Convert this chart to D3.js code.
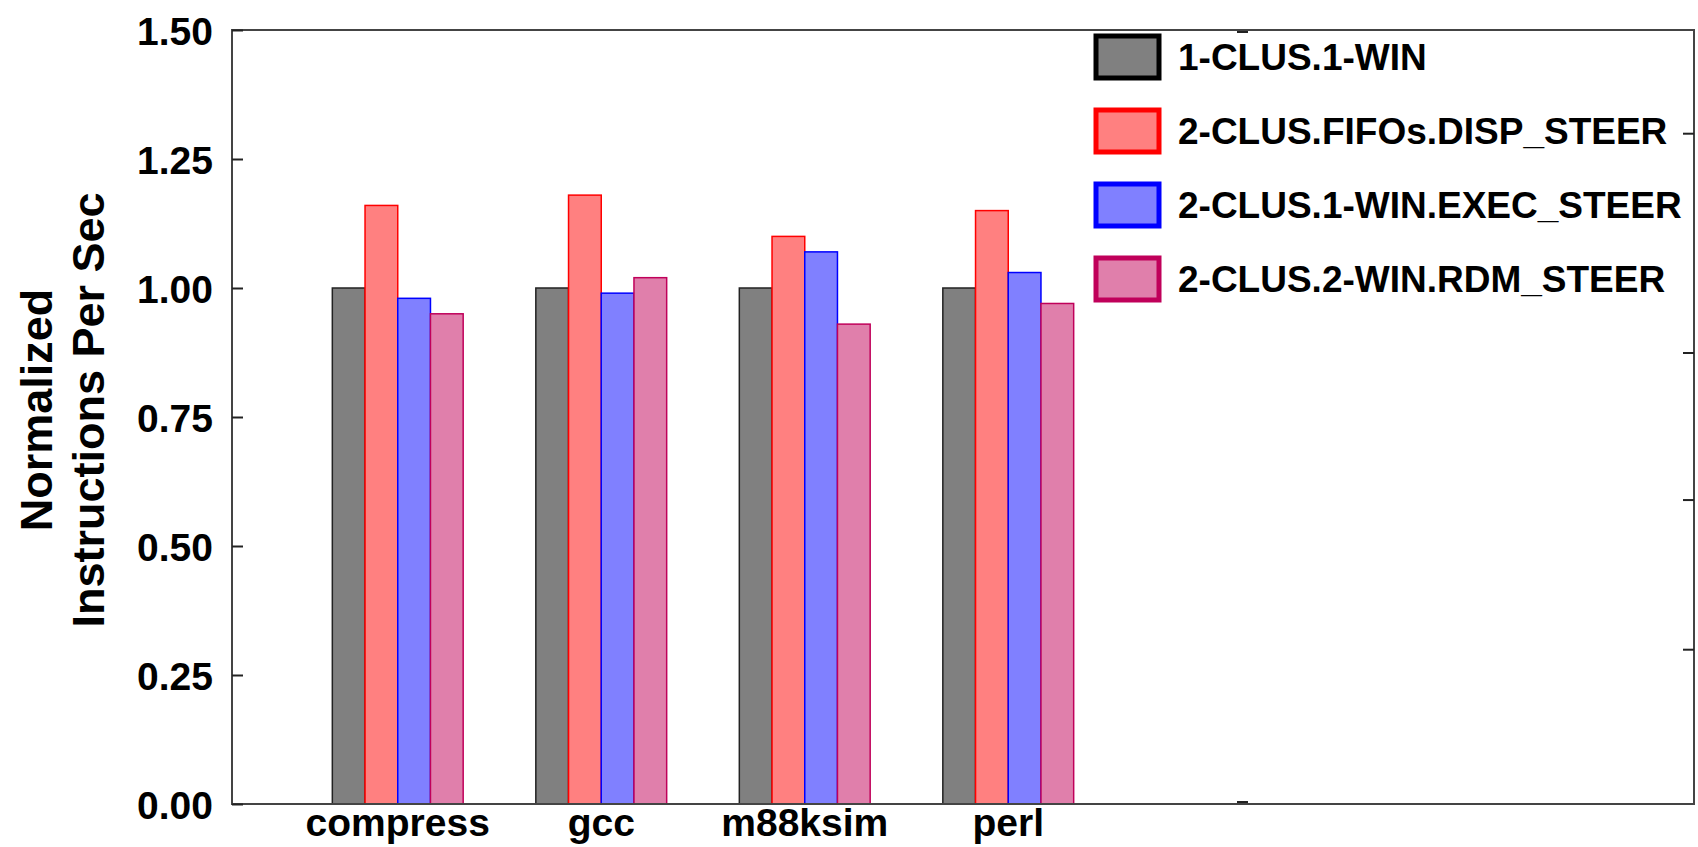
<!DOCTYPE html>
<html lang="en">
<head>
<meta charset="UTF-8">
<title>Normalized Instructions Per Sec</title>
<script src="https://d3js.org/d3.v7.min.js"></script>
<style>
  body { margin: 0; background: #fff; }
  svg text { font-family: "Liberation Sans", Arial, sans-serif; font-weight: bold; fill: #000; }
</style>
</head>
<body>
<svg id="chart" width="1698" height="847"></svg>
<script>
// data
var benchmarks = ["compress", "gcc", "m88ksim", "perl"];
var seriesNames = ["1-CLUS.1-WIN", "2-CLUS.FIFOs.DISP_STEER", "2-CLUS.1-WIN.EXEC_STEER", "2-CLUS.2-WIN.RDM_STEER"];
var oneClusOneWin   = [1.00, 1.00, 1.00, 1.00];
var twoClusFifos    = [1.16, 1.18, 1.10, 1.15];
var twoClusExec     = [0.98, 0.99, 1.07, 1.03];
var twoClusRdm      = [0.95, 1.02, 0.93, 0.97];
var yTicks = [0, 0.25, 0.5, 0.75, 1.0, 1.25, 1.5];
var rightTicks = [1.30, 0.875, 0.59, 0.30];

var series = [oneClusOneWin, twoClusFifos, twoClusExec, twoClusRdm];
var fills   = ["#808080", "#ff8080", "#8080ff", "#e07fab"];
var strokes = ["#222222", "#ff0000", "#0000ff", "#c0005a"];

var svg = d3.select("#chart");
var pLeft = 232, pRight = 1694, pTop = 30, pBottom = 804;

var y = d3.scaleLinear().domain([0, 1.5]).range([pBottom, pTop]);

var x = d3.scaleBand()
    .domain(benchmarks)
    .range([296, 1110])
    .paddingInner(0.357)
    .paddingOuter(0.1785);

var xs = d3.scaleBand()
    .domain(d3.range(seriesNames.length))
    .range([0, x.bandwidth()]);

// bars
benchmarks.forEach(function (b, bi) {
  var g = svg.append("g").attr("transform", "translate(" + x(b) + ",0)");
  series.forEach(function (s, si) {
    g.append("rect")
      .attr("x", xs(si))
      .attr("y", y(s[bi]))
      .attr("width", xs.bandwidth())
      .attr("height", y(0) - y(s[bi]))
      .attr("fill", fills[si])
      .attr("stroke", strokes[si])
      .attr("stroke-width", 1.5);
  });
});

// frame
svg.append("rect")
  .attr("x", pLeft).attr("y", pTop)
  .attr("width", pRight - pLeft).attr("height", pBottom - pTop)
  .attr("fill", "none")
  .attr("stroke", "#444")
  .attr("stroke-width", 2);

// left axis
var yAxis = d3.axisLeft(y).tickValues(yTicks).tickSizeInner(-11).tickSizeOuter(0)
    .tickPadding(19).tickFormat(d3.format(".2f"));
var ya = svg.append("g").attr("transform", "translate(" + pLeft + ",0)").call(yAxis);
ya.select(".domain").remove();
ya.selectAll("line").attr("stroke", "#222").attr("stroke-width", 2);
ya.selectAll("text").style("font-size", "39px").attr("dy", "0.36em");

// right ticks
var ra = svg.append("g").attr("transform", "translate(" + pRight + ",0)")
    .call(d3.axisRight(y).tickValues(rightTicks).tickSizeInner(-11).tickSizeOuter(0).tickFormat(""));
ra.select(".domain").remove();
ra.selectAll("line").attr("stroke", "#222").attr("stroke-width", 2);

// small marks top and bottom
[pTop + 1, pBottom - 3].forEach(function (yy) {
  svg.append("rect").attr("x", 1237).attr("y", yy).attr("width", 11).attr("height", 2).attr("fill", "#222");
});

// x labels
svg.append("g").selectAll("text")
  .data(benchmarks)
  .enter().append("text")
  .attr("x", function (d) { return x(d) + x.bandwidth() / 2; })
  .attr("y", 836)
  .attr("text-anchor", "middle")
  .style("font-size", "39px")
  .text(function (d) { return d; });

// y title
var yt = svg.append("text")
  .attr("transform", "translate(52,410) rotate(-90)")
  .attr("text-anchor", "middle")
  .style("font-size", "45px");
yt.append("tspan").attr("x", 0).attr("dy", "0").text("Normalized");
yt.append("tspan").attr("x", 0).attr("dy", "1.15em").text("Instructions Per Sec");

// legend
var legend = svg.append("g").attr("transform", "translate(1096,57)");
seriesNames.forEach(function (name, i) {
  var row = legend.append("g").attr("transform", "translate(0," + i * 74 + ")");
  row.append("rect")
    .attr("x", 0).attr("y", -21)
    .attr("width", 63).attr("height", 42)
    .attr("fill", fills[i])
    .attr("stroke", i === 0 ? "#000" : strokes[i])
    .attr("stroke-width", 5);
  row.append("text")
    .attr("x", 82)
    .attr("y", 0)
    .attr("dy", "0.36em")
    .style("font-size", "37px")
    .text(name);
});
</script>
</body>
</html>
